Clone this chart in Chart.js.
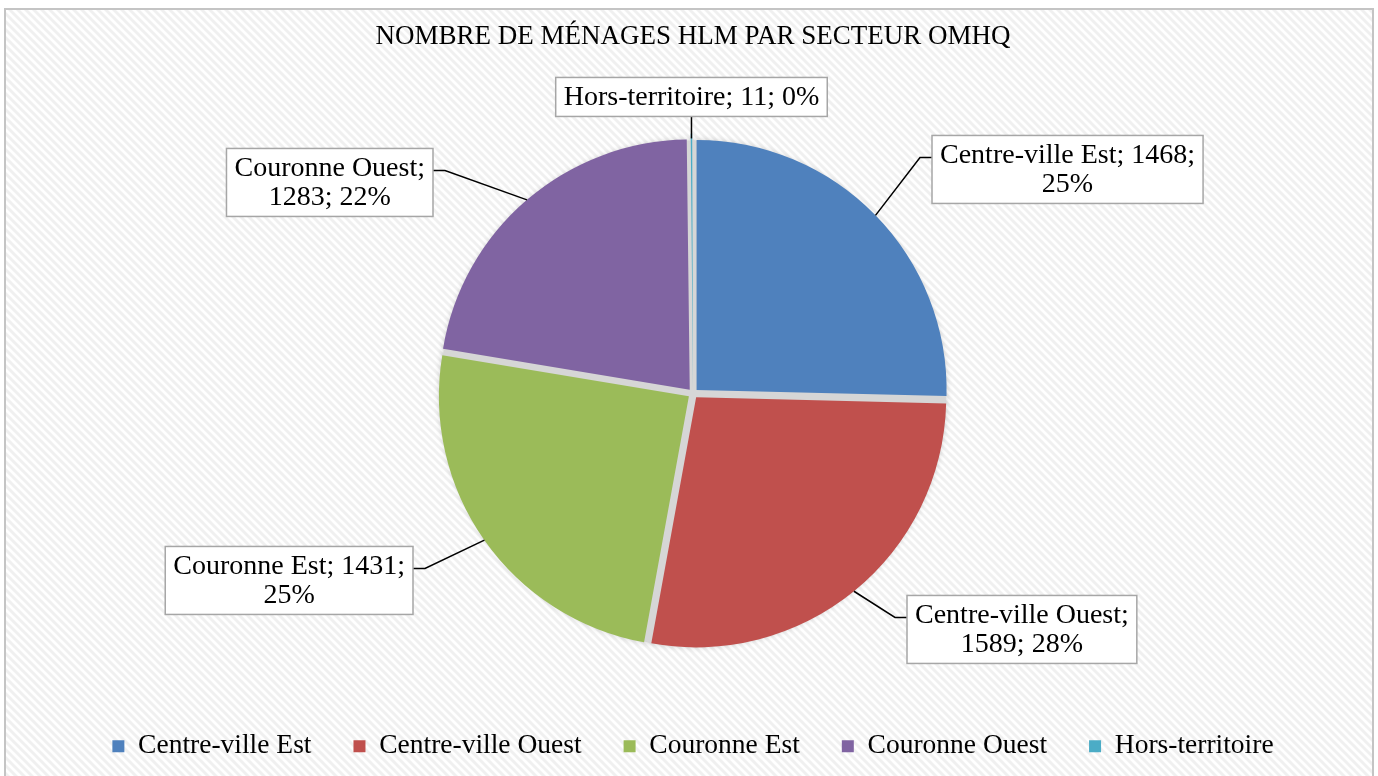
<!DOCTYPE html>
<html>
<head>
<meta charset="utf-8">
<script src="https://cdn.jsdelivr.net/npm/chart.js@4.4.1/dist/chart.umd.min.js"></script>
<style>
  html, body { margin: 0; padding: 0; background: #ffffff; }
  #wrap { width: 1378px; height: 776px; }
</style>
</head>
<body>
<div id="wrap"><canvas id="c" width="1378" height="776"></canvas></div>
<script>
// ---- data ----
const chartTitle = 'NOMBRE DE MÉNAGES HLM PAR SECTEUR OMHQ';
const categories = ['Centre-ville Est', 'Centre-ville Ouest', 'Couronne Est', 'Couronne Ouest', 'Hors-territoire'];
const menages = [1468, 1589, 1431, 1283, 11];
const percentLabels = ['25%', '28%', '25%', '22%', '0%'];
// how many of the three label parts (name, value, %) sit on the first line of each data label
const firstLineParts = [2, 1, 2, 1, 3];
const sliceColors = ['#4F81BD', '#C0504D', '#9BBB59', '#8064A2', '#4BACC6'];

const SERIF = "'Liberation Serif', 'DejaVu Serif', serif";

function labelLines(i) {
  const parts = [categories[i], String(menages[i]), percentLabels[i]];
  const k = firstLineParts[i];
  const l1 = parts.slice(0, k).join('; ') + (k < 3 ? ';' : '');
  const rest = parts.slice(k).join('; ');
  return rest ? [l1, rest] : [l1];
}

function makeHatch() {
  const s = 8;
  const c = document.createElement('canvas');
  c.width = s; c.height = s;
  const g = c.getContext('2d');
  g.fillStyle = '#ffffff';
  g.fillRect(0, 0, s, s);
  g.strokeStyle = '#f0f0f0';
  g.lineWidth = 3;
  for (const o of [-s, 0, s]) {
    g.beginPath();
    g.moveTo(o - 1, -1);
    g.lineTo(o + s + 1, s + 1);
    g.stroke();
  }
  return c;
}

const backgroundPlugin = {
  id: 'hatchBackground',
  beforeDraw(chart) {
    const ctx = chart.ctx;
    ctx.save();
    ctx.fillStyle = '#ffffff';
    ctx.fillRect(0, 0, chart.width, chart.height);
    ctx.fillStyle = ctx.createPattern(makeHatch(), 'repeat');
    ctx.fillRect(5, 9, chart.width - 10, chart.height - 9);
    ctx.strokeStyle = '#c4c4c4';
    ctx.lineWidth = 2;
    ctx.strokeRect(5, 9, chart.width - 10, chart.height + 20);
    ctx.restore();
  }
};

const shadowPlugin = {
  id: 'pieShadow',
  beforeDatasetsDraw(chart) {
    const meta = chart.getDatasetMeta(0);
    const arc = meta.data[0];
    if (!arc) return;
    const {x, y, outerRadius} = arc.getProps(['x', 'y', 'outerRadius'], true);
    const ctx = chart.ctx;
    ctx.save();
    ctx.shadowColor = 'rgba(0,0,0,0.22)';
    ctx.shadowBlur = 6;
    ctx.fillStyle = '#d6d6d6';
    ctx.beginPath();
    ctx.arc(x, y, outerRadius + 3, 0, Math.PI * 2);
    ctx.fill();
    ctx.restore();
  }
};

const boxLabelPlugin = {
  id: 'boxLabels',
  afterDatasetsDraw(chart, args, opts) {
    const ctx = chart.ctx;
    const meta = chart.getDatasetMeta(0);
    // Chart.js translates an arc by offset / 4
    const off = chart.data.datasets[0].offset / 4;
    ctx.save();
    ctx.font = opts.font;
    ctx.textAlign = 'center';
    ctx.textBaseline = 'middle';
    meta.data.forEach((arc, i) => {
      const {x, y, startAngle, endAngle, outerRadius} =
        arc.getProps(['x', 'y', 'startAngle', 'endAngle', 'outerRadius'], true);
      const mid = (startAngle + endAngle) / 2;
      const cos = Math.cos(mid), sin = Math.sin(mid);
      const ax = x + cos * (outerRadius + off);
      const ay = y + sin * (outerRadius + off);
      const lines = labelLines(i);
      const tw = Math.max(...lines.map(l => ctx.measureText(l).width));
      const bw = tw + 2 * opts.padX;
      const bh = lines.length * opts.lineHeight + 2 * opts.padY;
      let bx, by;
      ctx.strokeStyle = '#000000';
      ctx.lineWidth = 1.5;
      ctx.beginPath();
      ctx.moveTo(ax, ay);
      const el = opts.elbow[i];
      if (!el) {
        const ey = ay - opts.topGap;
        ctx.lineTo(ax, ey);
        bx = ax - bw / 2;
        by = ey - bh;
      } else {
        const ex = x + el[0] * outerRadius, ey = y + el[1] * outerRadius;
        const side = el[0] > 0 ? 1 : -1;
        const hx = ex + side * opts.gap;
        ctx.lineTo(ex, ey);
        ctx.lineTo(hx, ey);
        bx = side > 0 ? hx : hx - bw;
        by = ey + opts.dropY - bh / 2;
      }
      ctx.stroke();
      ctx.fillStyle = '#ffffff';
      ctx.fillRect(bx, by, bw, bh);
      ctx.strokeStyle = '#a6a6a6';
      ctx.lineWidth = 1.5;
      ctx.strokeRect(bx, by, bw, bh);
      ctx.fillStyle = '#000000';
      lines.forEach((l, j) => {
        ctx.fillText(l, bx + bw / 2, by + opts.padY + opts.lineHeight * (j + 0.5) + 1);
      });
    });
    ctx.restore();
  }
};

new Chart(document.getElementById('c'), {
  type: 'pie',
  data: {
    labels: categories,
    datasets: [{
      data: menages,
      backgroundColor: sliceColors,
      borderWidth: 0,
      offset: 20
    }]
  },
  options: {
    responsive: false,
    animation: false,
    radius: 250,
    layout: { padding: { left: 12, right: 4, top: 0, bottom: 6 } },
    plugins: {
      title: {
        display: true,
        text: chartTitle,
        color: '#000000',
        font: { family: SERIF, size: 27, weight: 'normal' },
        padding: { top: 21, bottom: 43 }
      },
      legend: {
        position: 'bottom',
        labels: {
          color: '#000000',
          font: { family: SERIF, size: 27.5 },
          boxWidth: 12,
          boxHeight: 12,
          padding: 42
        }
      },
      tooltip: { enabled: false },
      boxLabels: {
        font: "28px 'Liberation Serif', 'DejaVu Serif', serif",
        padX: 8,
        padY: 5,
        lineHeight: 29,
        gap: 12,
        dropY: 12,
        topGap: 22,
        // elbow point of each leader line, relative to the pie centre, in radius units
        elbow: [[0.908, -0.944], [0.808, 0.896], [-1.072, 0.70], [-0.992, -0.892], null]
      }
    }
  },
  plugins: [backgroundPlugin, shadowPlugin, boxLabelPlugin]
});
</script>
</body>
</html>
